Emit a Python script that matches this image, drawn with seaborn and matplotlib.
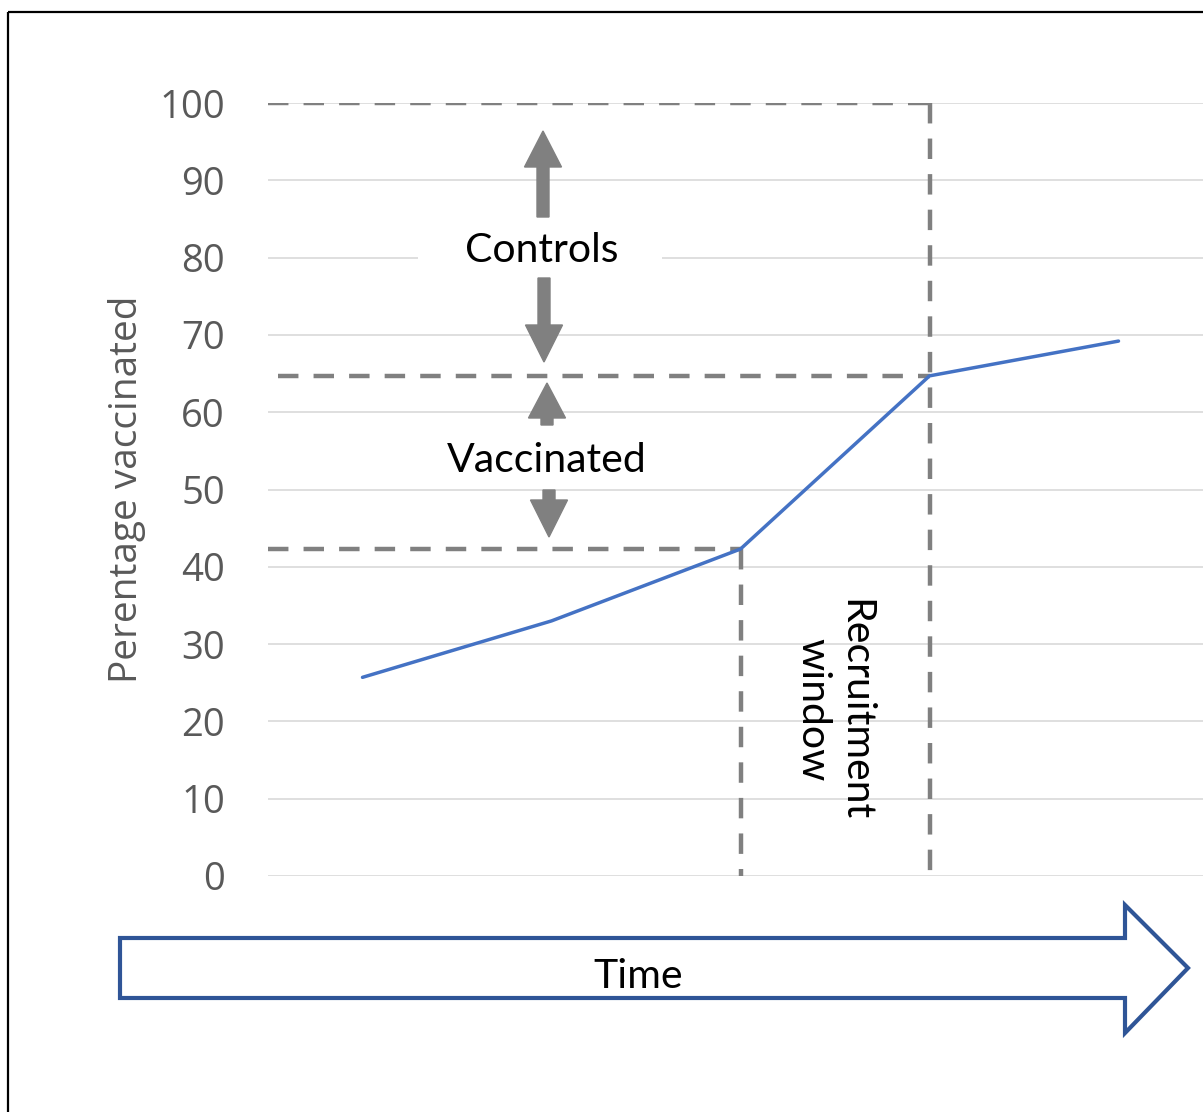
import matplotlib
matplotlib.use("Agg")
import matplotlib.pyplot as plt
import matplotlib.transforms as mtransforms
from matplotlib.patches import Polygon, Rectangle, FancyArrow
import seaborn as sns
import pandas as pd

# Vaccination uptake over time
periods = [1, 2, 3, 4, 5]
pct_vaccinated = [25.7, 33.0, 42.3, 64.7, 69.2]
y_ticks = [0, 10, 20, 30, 40, 50, 60, 70, 80, 90, 100]
window_start = 2   # index of the period opening the recruitment window
window_end = 3     # index of the period closing it
y_label = "Perentage vaccinated"

sns.set_theme(style="white")
plt.rcParams["font.family"] = ["Open Sans", "DejaVu Sans"]

W, H = 1203, 1112
fig = plt.figure(figsize=(W / 100, H / 100), dpi=100)
fig.patch.set_facecolor("white")
ax = fig.add_axes([268 / W, (H - 876) / H, 945 / W, 773 / H])

# pixel-based transform for the decorative shapes (origin top-left)
px = mtransforms.Affine2D().scale(1 / W, -1 / H).translate(0, 1) + fig.transFigure

df = pd.DataFrame({"period": periods, "pct": pct_vaccinated})
sns.lineplot(data=df, x="period", y="pct", ax=ax, color="#4472c4",
             linewidth=2.5, zorder=6)

ax.set_xlim(0.5, 5.5)
ax.set_ylim(0, 100)
ax.set_yticks(y_ticks)
ax.set_xticks([])
ax.set_xlabel("")
ax.yaxis.grid(True, color="#d9d9d9", linewidth=1.2)
ax.set_axisbelow(True)
for s in ax.spines.values():
    s.set_visible(False)
ax.tick_params(axis="y", length=0, pad=31, labelsize=27.5, labelcolor="#595959")
ax.set_ylabel(y_label, fontsize=28, color="#595959")
ax.yaxis.set_label_coords((127 - 268) / 945, (876 - 489) / 773)
ax.yaxis.label.set_verticalalignment("center")

# dashed guide lines
dash = dict(color="#808080", linewidth=3.2, linestyle=(0, (4.6, 3.4)), zorder=4)
y_start = pct_vaccinated[window_start]
y_end = pct_vaccinated[window_end]
x_start = periods[window_start]
x_end = periods[window_end]
ax.plot([0.5, x_end], [100, 100], **dash)
ax.plot([0.553, x_end], [y_end, y_end], **dash)
ax.plot([0.5, x_start], [y_start, y_start], **dash)
ax.plot([x_start, x_start], [y_start, 0], **dash)
ax.plot([x_end, x_end], [100, 0], **dash)

label_font = dict(fontsize=29.5, color="black", family=["Lato", "DejaVu Sans"],
                  transform=px, ha="center", va="center", zorder=7)

# "Controls" label with its double arrow
ax.add_patch(Rectangle((418, 218), 244, 60, transform=px, facecolor="white",
                       edgecolor="none", zorder=3, clip_on=False))
arrow_kw = dict(transform=px, color="#808080", length_includes_head=True,
                zorder=5, clip_on=False)
ax.add_patch(FancyArrow(543, 217, 0, 131 - 217, width=12, head_width=37,
                        head_length=36, **arrow_kw))
ax.add_patch(FancyArrow(544, 278, 0, 362 - 278, width=12, head_width=37,
                        head_length=37, **arrow_kw))
ax.text(542, 250, "Controls", **label_font)

# "Vaccinated" label with its double arrow
ax.add_patch(FancyArrow(547, 425, 0, 383 - 425, width=12, head_width=37,
                        head_length=35, **arrow_kw))
ax.add_patch(FancyArrow(549, 490, 0, 537 - 490, width=12, head_width=37,
                        head_length=37, **arrow_kw))
ax.text(547, 460, "Vaccinated", **label_font)

# recruitment window label
ax.text(834, 710, "Recruitment\nwindow", rotation=-90, multialignment="center",
        linespacing=1.15, **label_font)

# time arrow below the axis
time_arrow = Polygon([(120, 938), (1125, 938), (1125, 905), (1188, 968),
                      (1125, 1033), (1125, 998), (120, 998)], closed=True,
                     transform=px, facecolor="white", edgecolor="#2f5597",
                     linewidth=3.0, joinstyle="miter", zorder=5, clip_on=False)
ax.add_patch(time_arrow)
ax.text(638, 977, "Time", **label_font)

# outer frame
fig.add_artist(Rectangle((8, 12), 1400, 1300, transform=px, fill=False,
                         edgecolor="black", linewidth=1.6, clip_on=False))

fig.savefig("out.png", dpi=100)
